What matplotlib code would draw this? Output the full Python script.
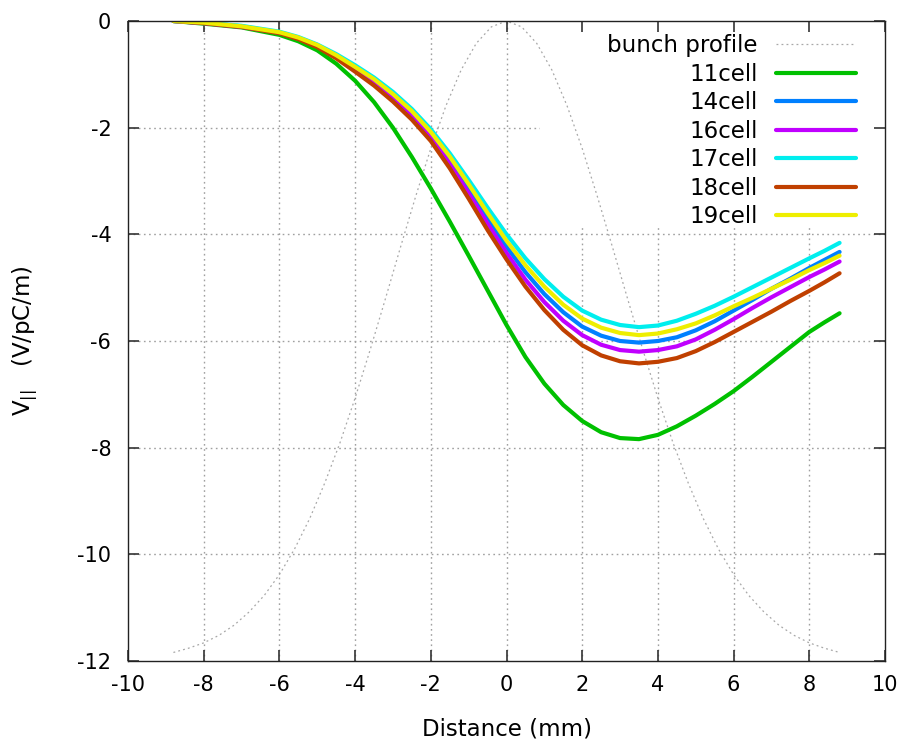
import matplotlib
matplotlib.use("Agg")
import matplotlib.pyplot as plt
from matplotlib.patches import Rectangle

plt.rcParams['font.family'] = ['DejaVu Sans']
plt.rcParams['mathtext.fontset'] = 'dejavusans'

# ---- data ----
x_wake = [-8.8, -8, -7, -6, -5.5, -5, -4.5, -4, -3.5, -3, -2.5, -2, -1.5, -1, -0.5,
          0, 0.5, 1, 1.5, 2, 2.5, 3, 3.5, 4, 4.5, 5, 5.5, 6, 6.5, 7, 7.5, 8, 8.4, 8.8]

v11 = [0, -0.05, -0.12, -0.26, -0.38, -0.55, -0.8, -1.12, -1.52, -2.0, -2.55, -3.14, -3.76, -4.4, -5.05,
       -5.7, -6.3, -6.8, -7.2, -7.5, -7.71, -7.82, -7.84, -7.76, -7.6, -7.4, -7.18, -6.94, -6.67,
       -6.39, -6.11, -5.83, -5.65, -5.48]
v17 = [0, -0.03, -0.09, -0.2, -0.3, -0.44, -0.62, -0.83, -1.06, -1.33, -1.65, -2.03, -2.48, -2.98, -3.5,
       -4.0, -4.45, -4.84, -5.17, -5.43, -5.6, -5.7, -5.74, -5.71, -5.62, -5.49, -5.34, -5.17, -4.99,
       -4.81, -4.63, -4.45, -4.31, -4.16]
v19 = [0, -0.03, -0.1, -0.21, -0.31, -0.45, -0.64, -0.86, -1.09, -1.37, -1.69, -2.08, -2.54, -3.06, -3.6,
       -4.12, -4.58, -4.98, -5.32, -5.58, -5.75, -5.85, -5.89, -5.86, -5.78, -5.67, -5.52, -5.35, -5.19,
       -5.02, -4.85, -4.67, -4.54, -4.4]
v14 = [0, -0.03, -0.1, -0.22, -0.32, -0.46, -0.66, -0.88, -1.13, -1.41, -1.74, -2.13, -2.61, -3.14, -3.7,
       -4.23, -4.71, -5.12, -5.46, -5.73, -5.9, -6.0, -6.03, -6.0, -5.93, -5.8, -5.63, -5.43, -5.23,
       -5.02, -4.83, -4.63, -4.48, -4.33]
v16 = [0, -0.04, -0.11, -0.22, -0.33, -0.47, -0.68, -0.91, -1.16, -1.45, -1.78, -2.18, -2.68, -3.23, -3.8,
       -4.35, -4.85, -5.27, -5.62, -5.89, -6.07, -6.17, -6.2, -6.17, -6.1, -5.97, -5.79, -5.59, -5.38,
       -5.18, -4.99, -4.8, -4.66, -4.51]
v18 = [0, -0.04, -0.11, -0.23, -0.34, -0.49, -0.7, -0.95, -1.21, -1.51, -1.85, -2.25, -2.76, -3.33, -3.92,
       -4.47, -4.98, -5.42, -5.79, -6.08, -6.27, -6.38, -6.42, -6.39, -6.32, -6.19, -6.02, -5.83, -5.64,
       -5.45, -5.25, -5.06, -4.9, -4.73]

x_bunch = [-8.8, -8.4, -8.0, -7.6, -7.2, -6.8, -6.4, -6.0, -5.6, -5.2, -4.8, -4.4, -4.0, -3.6, -3.2,
           -2.8, -2.4, -2.0, -1.6, -1.2, -0.8, -0.4, 0.0, 0.4, 0.8, 1.2, 1.6, 2.0, 2.4, 2.8, 3.2,
           3.6, 4.0, 4.4, 4.8, 5.2, 5.6, 6.0, 6.4, 6.8, 7.2, 7.6, 8.0, 8.4, 8.8]
y_bunch = [-11.84, -11.76, -11.66, -11.52, -11.33, -11.08, -10.77, -10.38, -9.90, -9.33, -8.66,
           -7.91, -7.07, -6.16, -5.21, -4.24, -3.29, -2.39, -1.59, -0.92, -0.42, -0.11, 0.0,
           -0.11, -0.42, -0.92, -1.59, -2.39, -3.29, -4.24, -5.21, -6.16, -7.07, -7.91, -8.66,
           -9.33, -9.90, -10.38, -10.77, -11.08, -11.33, -11.52, -11.66, -11.76, -11.84]

series_labels = ['11cell', '14cell', '16cell', '17cell', '18cell', '19cell']
series_values = [v11, v14, v16, v17, v18, v19]
series_colors = ['#00c000', '#0080ff', '#c000ff', '#00eeee', '#c04000', '#eeee00']

x_ticks = [-10, -8, -6, -4, -2, 0, 2, 4, 6, 8, 10]
y_ticks = [0, -2, -4, -6, -8, -10, -12]

# ---- figure ----
fig = plt.figure(figsize=(9.06, 7.46), dpi=100)
ax = fig.add_axes([128 / 906, 1 - 661 / 746, (885 - 128) / 906, (661 - 21) / 746])
ax.set_xlim(-10, 10)
ax.set_ylim(-12, 0)

grid_kw = dict(color='#a0a0a0', lw=1.0, linestyle=(0, (1.2, 2.5)), zorder=0.5)
for xt in x_ticks[1:-1]:
    ax.axvline(xt, **grid_kw)
for yt in y_ticks[1:-1]:
    ax.axhline(yt, **grid_kw)

# opaque key area (grid hidden behind the key, like gnuplot)
ax.add_patch(Rectangle((0.885, -3.88), 10 - 0.885, 3.88, facecolor='white',
                       edgecolor='none', zorder=1))

ax.plot(x_bunch, y_bunch, color='#a8a8a8', lw=0.9, linestyle=(0, (1.5, 2.5)),
        label='bunch profile', zorder=2)
for lab, vals, col in zip(series_labels, series_values, series_colors):
    ax.plot(x_wake, vals, color=col, lw=3.0, label=lab, zorder=2,
            solid_joinstyle='round', solid_capstyle='round')

ax.set_xticks(x_ticks)
ax.set_yticks(y_ticks)
ax.set_xticklabels([str(v) for v in x_ticks])
ax.set_yticklabels([str(v) for v in y_ticks])
ax.tick_params(direction='in', length=8, width=1.2, color='#333333',
               top=True, right=True, labelsize=15)
ax.tick_params(axis='x', pad=10)
ax.tick_params(axis='y', pad=12)
for sp in ax.spines.values():
    sp.set_linewidth(1.0)
    sp.set_color('#222222')

ax.set_xlabel('Distance (mm)', fontsize=16.5, labelpad=16)
ax.set_ylabel(r'V$_{||}$   (V/pC/m)', fontsize=16.5, labelpad=26)

leg = ax.legend(loc='upper right', bbox_to_anchor=(0.962, 0.979), frameon=False,
                markerfirst=False, fontsize=16.5, handlelength=3.5, handletextpad=0.8,
                labelspacing=0.24, borderaxespad=0.0, borderpad=0.0)
leg.set_zorder(3)

fig.savefig('out.png', dpi=100)
